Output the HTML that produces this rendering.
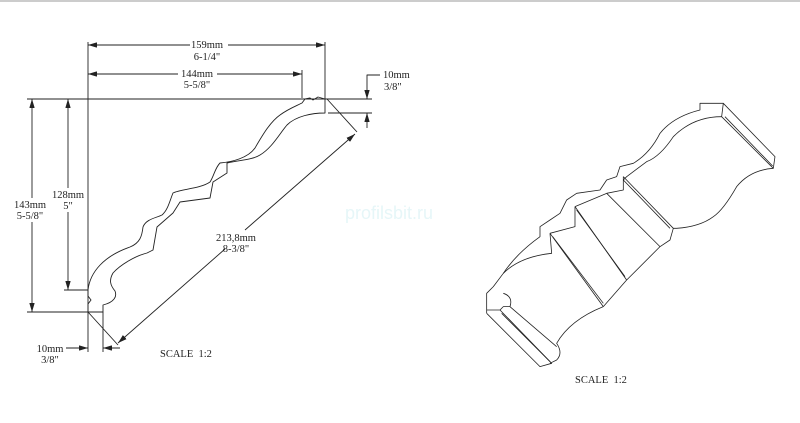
<!DOCTYPE html>
<html><head><meta charset="utf-8"><style>
html,body{margin:0;padding:0;background:#fff;width:800px;height:423px;overflow:hidden}
svg{display:block}
text{font-family:"Liberation Serif",serif;font-size:10.5px;fill:#222}
</style></head><body>
<svg width="800" height="423" viewBox="0 0 800 423">
<defs><marker id="a" viewBox="0 0 10 6" refX="10" refY="3" markerWidth="10" markerHeight="6" orient="auto-start-reverse"><path d="M0,0L10,3L0,6z" fill="#222"/></marker></defs>
<line x1="0" y1="1" x2="800" y2="1" stroke="#bbb" stroke-width="1.5"/>
<g stroke="#222" stroke-width="0.9" fill="none" stroke-linejoin="round">
<line x1="88" y1="42" x2="88" y2="352"/>
<line x1="325" y1="42" x2="325" y2="99"/>
<line x1="302" y1="70" x2="302" y2="98"/>
<line x1="27" y1="99" x2="372" y2="99"/>
<line x1="328" y1="113" x2="372" y2="113"/>
<line x1="27" y1="312" x2="100" y2="312"/>
<line x1="64" y1="290" x2="88" y2="290"/>
<line x1="103" y1="312" x2="103" y2="352"/>
<line x1="88" y1="312" x2="118" y2="345"/>
<line x1="327" y1="99" x2="357" y2="132"/>
<line x1="88" y1="45" x2="190" y2="45" marker-start="url(#a)"/>
<line x1="228" y1="45" x2="325" y2="45" marker-end="url(#a)"/>
<line x1="88" y1="74" x2="178" y2="74" marker-start="url(#a)"/>
<line x1="217" y1="74" x2="302" y2="74" marker-end="url(#a)"/>
<line x1="32" y1="99" x2="32" y2="198" marker-start="url(#a)"/>
<line x1="32" y1="222" x2="32" y2="312" marker-end="url(#a)"/>
<line x1="68" y1="99" x2="68" y2="188" marker-start="url(#a)"/>
<line x1="68" y1="212" x2="68" y2="290" marker-end="url(#a)"/>
<polyline points="380,75 367,75 367,99" marker-end="url(#a)"/>
<line x1="367" y1="128" x2="367" y2="113" marker-end="url(#a)"/>
<line x1="66" y1="348" x2="88" y2="348" marker-end="url(#a)"/>
<line x1="120" y1="348" x2="103" y2="348" marker-end="url(#a)"/>
<line x1="225" y1="249" x2="118" y2="343" marker-end="url(#a)"/>
<line x1="245" y1="230" x2="355" y2="134" marker-end="url(#a)"/>
<path d="M88,290 C90,272 104,256 130,247 C140,243 142,236 143,227 C146,219 156,218 162,215 C168,210 170,200 173,193 C180,189 200,189 210,182 C214,176 215,168 220,163 C232,162 248,158 255,148 C262,136 270,122 280,115 C288,109 296,106 302,103 L305,99 L310,98 L313,100 L318,97 L325,99 L325,113 C312,113 296,116 287,125 C280,133 272,148 260,155 C252,160 240,160 227,163 L227,173 L213,182 L210,198 L180,202 L173,213 L157,227 L153,250 L147,253 C135,256 120,265 113,273 C109,280 110,285 115,291 C117,296 115,302 103,305 L103,312 L88,312 L88,304 L91,300 L88,296 Z"/>
<g transform="translate(460,80) scale(0.3333)" stroke-width="2.4">
<path d="M80,700 L80,640 L100,620 L130,580 Q170,520 240,470 L240,440 L270,420 L300,400 L320,360 L350,340 L420,330 L440,300 L470,290 L480,260 L520,250 Q570,220 600,160 Q640,110 720,90 L720,70 L760,70 L790,70"/>
<path d="M790,70 L945,230 L940,265 L785,110 Z"/>
<line x1="795" y1="110" x2="938" y2="258"/>
<path d="M785,110 Q700,110 640,170 Q600,230 560,245 L500,290 L490,300"/>
<path d="M940,265 Q870,270 830,320 Q790,390 760,410 Q720,440 650,445 L640,445"/>
<path d="M490,290 L640,445 L630,480 L600,500 L500,600 L430,680"/>
<path d="M490,300 L630,445"/>
<path d="M440,340 L490,330 L490,290"/>
<path d="M440,340 L600,500"/>
<path d="M345,380 L440,340"/>
<path d="M345,380 L500,600"/>
<path d="M350,390 L495,590"/>
<path d="M270,460 L345,440 L345,380"/>
<path d="M270,460 L430,680"/>
<path d="M278,470 L430,670"/>
<path d="M270,460 L275,520 Q180,530 130,580"/>
<path d="M430,680 Q330,720 290,790 Q310,820 290,840 L270,850"/>
<path d="M80,700 L240,860 L275,850 L120,690 L80,690"/>
<line x1="125" y1="700" x2="270" y2="845"/>
<path d="M120,690 L130,680 L150,680 Q160,650 130,640"/>
<line x1="150" y1="680" x2="290" y2="800"/>
</g>
</g>
<g text-anchor="middle">
<text x="207" y="48">159mm</text><text x="207" y="60">6-1/4"</text>
<text x="197" y="77">144mm</text><text x="197" y="88">5-5/8"</text>
<text x="30" y="208">143mm</text><text x="30" y="219">5-5/8"</text>
<text x="68" y="198">128mm</text><text x="68" y="209">5"</text>
<text x="236" y="241">213,8mm</text><text x="236" y="252">8-3/8"</text>
<text x="50" y="352">10mm</text><text x="50" y="363">3/8"</text>
</g>
<text x="383" y="78">10mm</text><text x="384" y="90">3/8"</text>
<text x="160" y="357">SCALE&#160; 1:2</text>
<text x="575" y="383">SCALE&#160; 1:2</text>
<text x="345" y="219" style="font-family:'Liberation Sans',sans-serif;font-size:18px;fill:#e6f6f8">profilsbit.ru</text>
</svg>
</body></html>
